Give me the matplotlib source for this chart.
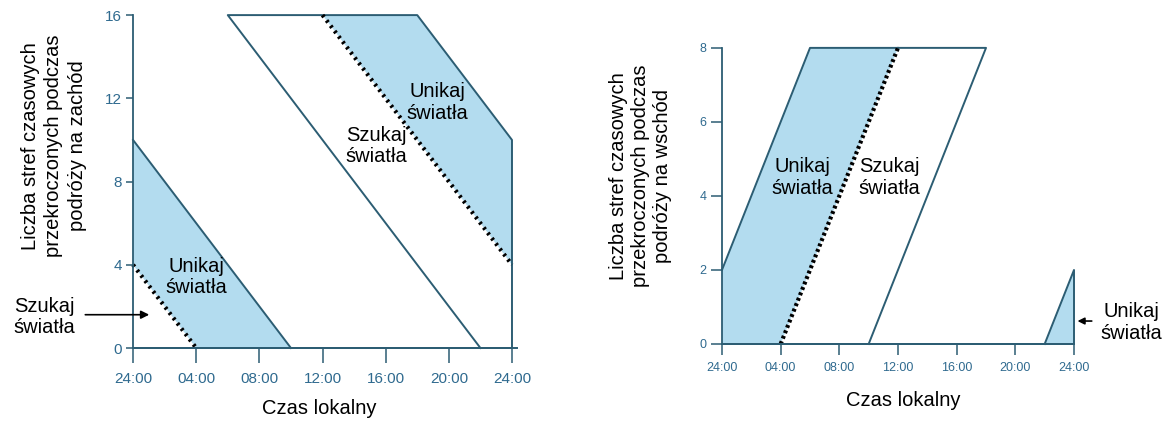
import matplotlib
matplotlib.use("Agg")
import matplotlib.pyplot as plt

plt.rcParams['font.family'] = ['Liberation Sans', 'DejaVu Sans']

# dane
godziny = [0, 4, 8, 12, 16, 20, 24]
etykiety_x = ["24:00", "04:00", "08:00", "12:00", "16:00", "20:00", "24:00"]

# podróż na zachód
zachod_yticks = [0, 4, 8, 12, 16]
zachod_dolny_x = [0, 10, 4, 0]          # obszar "unikaj" przy 24:00
zachod_dolny_y = [10, 0, 0, 4]
zachod_kropki_dol_x = [0, 4]
zachod_kropki_dol_y = [4, 0]
zachod_ramka_x = [22, 6, 18, 24, 24]     # obrys równoległoboku
zachod_ramka_y = [0, 16, 16, 10, 0]
zachod_gorny_x = [12, 18, 24, 24]        # obszar "unikaj" u góry
zachod_gorny_y = [16, 16, 10, 4]
zachod_kropki_gora_x = [12, 24]
zachod_kropki_gora_y = [16, 4]

# podróż na wschód
wschod_yticks = [0, 2, 4, 6, 8]
wschod_pas_x = [0, 0, 6, 12, 4]
wschod_pas_y = [0, 2, 8, 8, 0]
wschod_kropki_x = [4, 12]
wschod_kropki_y = [0, 8]
wschod_ramka_x = [12, 18, 10]
wschod_ramka_y = [8, 8, 0]
wschod_trojkat_x = [22, 24, 24]
wschod_trojkat_y = [0, 2, 0]

kolor_linii = "#2c5d73"
kolor_pola = "#b3dcef"
kolor_tick = "#2f6a8f"

fig = plt.figure(figsize=(11.66, 4.23), dpi=100)
ax1 = fig.add_axes([0.1141, 0.1773, 0.325, 0.787])
ax2 = fig.add_axes([0.6192, 0.1868, 0.3019, 0.70])


def os_styl(ax, yticks, fs, xlen, ylen, xpad):
    ax.set_xlim(0, 24)
    ax.set_ylim(0, yticks[-1])
    for s in ["top", "right"]:
        ax.spines[s].set_visible(False)
    for s in ["left", "bottom"]:
        ax.spines[s].set_color(kolor_linii)
        ax.spines[s].set_linewidth(1.3)
    ax.set_xticks(godziny)
    ax.set_xticklabels(etykiety_x, fontsize=fs, color=kolor_tick)
    ax.set_yticks(yticks)
    ax.set_yticklabels([str(v) for v in yticks], fontsize=fs, color=kolor_tick)
    ax.tick_params(axis="x", length=xlen, width=1.1, color=kolor_linii, pad=xpad)
    ax.tick_params(axis="y", length=ylen, width=1.1, color=kolor_linii, pad=3)
    ax.patch.set_visible(False)


# --- lewy wykres (zachód)
ax1.fill(zachod_dolny_x, zachod_dolny_y, color=kolor_pola, lw=0)
ax1.fill(zachod_gorny_x, zachod_gorny_y, color=kolor_pola, lw=0)
ax1.plot([0, 10], [10, 0], color=kolor_linii, lw=1.4, clip_on=False)
ax1.plot(zachod_ramka_x, zachod_ramka_y, color=kolor_linii, lw=1.4, clip_on=False)
ax1.plot(zachod_kropki_dol_x, zachod_kropki_dol_y, color="black", lw=3, ls=(0, (0.6, 1.0)), clip_on=False)
ax1.plot(zachod_kropki_gora_x, zachod_kropki_gora_y, color="black", lw=3, ls=(0, (0.6, 1.0)), clip_on=False)
ax1.plot([0, 24.3], [0, 0], color=kolor_linii, lw=1.4, clip_on=False)
os_styl(ax1, zachod_yticks, 11, 11, 5, 6)

tk = dict(fontsize=14.5, ha="center", va="center", linespacing=1.15)
ax1.text(4.0, 3.4, "Unikaj\nświatła", **tk)
ax1.text(19.3, 11.8, "Unikaj\nświatła", **tk)
ax1.text(15.4, 9.7, "Szukaj\nświatła", **tk)
ax1.annotate("", xy=(1.2, 1.6), xytext=(-3.2, 1.6),
             arrowprops=dict(arrowstyle="-|>", color="black", lw=1.2, mutation_scale=12),
             annotation_clip=False)
ax1.text(-5.6, 1.5, "Szukaj\nświatła", clip_on=False, **tk)

# --- prawy wykres (wschód)
ax2.fill(wschod_pas_x, wschod_pas_y, color=kolor_pola, lw=0)
ax2.fill(wschod_trojkat_x, wschod_trojkat_y, color=kolor_pola, lw=0)
ax2.plot([0, 6, 12], [2, 8, 8], color=kolor_linii, lw=1.4, clip_on=False)
ax2.plot(wschod_ramka_x, wschod_ramka_y, color=kolor_linii, lw=1.4, clip_on=False)
ax2.plot(wschod_trojkat_x[:2] + [24], wschod_trojkat_y[:2] + [0], color=kolor_linii, lw=1.4, clip_on=False)
ax2.plot(wschod_kropki_x, wschod_kropki_y, color="black", lw=3, ls=(0, (0.7, 0.7)), clip_on=False)
ax2.plot([0, 24], [0, 0], color=kolor_linii, lw=1.4, clip_on=False)
os_styl(ax2, wschod_yticks, 9, 8, 8, 5)

ax2.text(5.5, 4.5, "Unikaj\nświatła", **tk)
ax2.text(11.4, 4.5, "Szukaj\nświatła", **tk)
ax2.annotate("", xy=(24.05, 0.62), xytext=(25.4, 0.62),
             arrowprops=dict(arrowstyle="-|>", color="black", lw=1.2, mutation_scale=10),
             annotation_clip=False)
ax2.text(27.9, 0.58, "Unikaj\nświatła", clip_on=False, **tk)

# podpisy osi
fig.text(0.046, 0.655, "Liczba stref czasowych\nprzekroczonych podczas\npodróży na zachód",
         rotation=90, ha="center", va="center", fontsize=14.5, linespacing=1.3)
fig.text(0.549, 0.584, "Liczba stref czasowych\nprzekroczonych podczas\npodróży na wschód",
         rotation=90, ha="center", va="center", fontsize=14.5, linespacing=1.2)
fig.text(0.274, 0.035, "Czas lokalny", ha="center", va="center", fontsize=14.5)
fig.text(0.775, 0.054, "Czas lokalny", ha="center", va="center", fontsize=14.5)

fig.savefig("out.png", dpi=100)
